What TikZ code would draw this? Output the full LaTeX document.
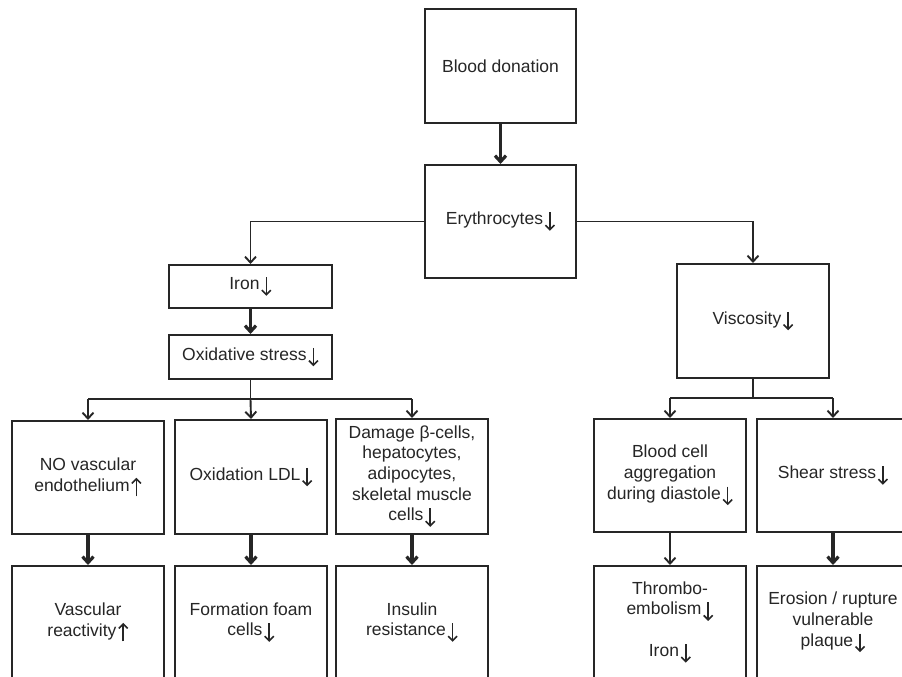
\documentclass[tikz,border=0pt]{standalone}
\usepackage{fontspec}
\setmainfont{Liberation Sans}
\usetikzlibrary{arrows.meta}
\definecolor{ink}{HTML}{262626}
\newcommand{\dn}{\hspace{1.5pt}\tikz[baseline=0pt]\draw[ink,line width=1.6pt,-{Straight Barb[length=4.5pt,width=9pt]}] (0pt,12.5pt) -- (0pt,-6pt);}
\newcommand{\upar}{\hspace{1.5pt}\tikz[baseline=0pt]\draw[ink,line width=1.6pt,-{Straight Barb[length=4.5pt,width=9pt]}] (0pt,-5pt) -- (0pt,13.5pt);}
\begin{document}
\begin{tikzpicture}[x=1pt,y=-1pt,
  box/.style={draw=ink,line width=2pt,inner sep=0pt,align=center,text=ink,
    font=\fontsize{17.5}{20.7}\selectfont,minimum width=152pt,minimum height=113pt},
  flat/.style={box,minimum width=163pt,minimum height=43pt},
  thinarr/.style={draw=ink,line width=1.9pt,-{Straight Barb[length=6pt,width=11pt]}},
  thickarr/.style={draw=ink,line width=3.2pt,-{Straight Barb[length=6pt,width=11pt]}},
  thinline/.style={draw=ink,line width=1.9pt}]
\useasboundingbox (0,0) rectangle (902,677);
\clip (0,0) rectangle (902,677);
\fill[white] (0,0) rectangle (902,677);

\node[box,minimum width=151pt,minimum height=114pt] (blood) at (500.5,66) {Blood donation};
\node[box,minimum width=151pt] (ery) at (500.5,221.5) {Erythrocytes\dn};
\node[flat] (iron) at (250.5,286.5) {Iron\dn};
\node[flat,minimum height=44pt] (oxid) at (250.5,357) {Oxidative stress\dn};
\node[box,minimum height=114pt] (visc) at (753,321) {Viscosity\dn};

\node[box] (no) at (88,477.5) {NO vascular\\endothelium\upar};
\node[box,minimum height=114pt] (ldl) at (251,477) {Oxidation LDL\dn};
\node[box,minimum height=115pt] (dmg) at (412,476.5) {Damage β-cells,\\hepatocytes,\\adipocytes,\\skeletal muscle\\cells\dn};
\node[box] (bcell) at (670,475.5) {Blood cell\\aggregation\\during diastole\dn};
\node[box] (shear) at (833,475.5) {Shear stress\dn};

\node[box] (vasc) at (88,622.5) {Vascular\\reactivity\upar};
\node[box] (foam) at (251,622.5) {Formation foam\\cells\dn};
\node[box] (ins) at (412,622.5) {Insulin\\resistance\dn};
\node[box] (throm) at (670,622.5) {Thrombo-\\embolism\dn\\[21pt]Iron\dn};
\node[box] (eros) at (833,622.5) {Erosion / rupture\\vulnerable\\plaque\dn};

\coordinate (ob) at (250.5,399);
\coordinate (vb) at (753,398);

\draw[thickarr] (blood.south) -- (ery.north);
\draw[thinarr] (ery.west) -| (iron.north);
\draw[thinarr] (ery.east) -| (visc.north);
\draw[thickarr] (iron.south) -- (oxid.north);

\draw[thinline] (oxid.south) -- (ob);
\draw[thinline] (no.north |- ob) -- (dmg.north |- ob);
\draw[thinarr] (no.north |- ob) -- (no.north);
\draw[thinarr] (ob) -- (ldl.north);
\draw[thinarr] (dmg.north |- ob) -- (dmg.north);

\draw[thinline] (visc.south) -- (vb);
\draw[thinline] (bcell.north |- vb) -- (shear.north |- vb);
\draw[thinarr] (bcell.north |- vb) -- (bcell.north);
\draw[thinarr] (shear.north |- vb) -- (shear.north);

\draw[thickarr] (no.south) -- (vasc.north);
\draw[thickarr] (ldl.south) -- (foam.north);
\draw[thickarr] (dmg.south) -- (ins.north);
\draw[thinarr] (bcell.south) -- (throm.north);
\draw[thickarr] (shear.south) -- (eros.north);
\end{tikzpicture}
\end{document}
